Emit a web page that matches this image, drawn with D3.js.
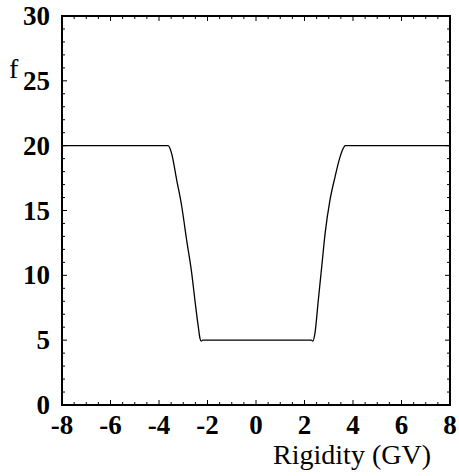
<!DOCTYPE html>
<html lang="en">
<head>
  <meta charset="UTF-8">
  <title>f vs Rigidity</title>
  <script src="https://d3js.org/d3.v7.min.js"></script>
  <style>
    body { margin: 0; background: #fff; }
    .tick-label { font-family: "Liberation Serif", "Times New Roman", serif; font-weight: bold; font-size: 27px; fill: #000; }
    .axis-title { font-family: "Liberation Serif", "Times New Roman", serif; font-size: 28px; fill: #000; }
  </style>
</head>
<body>
<svg width="459" height="476"></svg>
<script>
  // data
  const rigidity = [-8, -3.62, -3.55, -3.48, -3.27, -3.06, -2.86, -2.65, -2.52, -2.38, -2.31, -2.26, -2.2,
                    2.28, 2.34, 2.43, 2.57, 2.71, 2.85, 3.05, 3.26, 3.46, 3.60, 3.68, 8];
  const fValues  = [20, 20, 19.8, 19.4, 17.35, 15.29, 12.72, 10.15, 8.1, 6.04, 5.14, 4.93, 5.0,
                    5.0, 4.93, 5.53, 8.1, 10.66, 13.24, 15.8, 17.6, 19.1, 19.8, 20, 20];
  const xTicks = [-8, -6, -4, -2, 0, 2, 4, 6, 8];
  const yTicks = [0, 5, 10, 15, 20, 25, 30];

  const svg = d3.select("svg");
  const mLeft = 62, mRight = 450, mTop = 16, mBottom = 405;

  const x = d3.scaleLinear().domain([-8, 8]).range([mLeft, mRight]);
  const y = d3.scaleLinear().domain([0, 30]).range([mBottom, mTop]);

  // minor + major ticks, pointing inward on all four sides
  const tickG = svg.append("g").attr("stroke", "#000").attr("stroke-width", 1);
  d3.range(-8, 8.001, 0.5).forEach(function(v) {
    const major = Math.abs(v % 2) < 1e-6;
    const len = major ? 5 : 3;
    tickG.append("line").attr("x1", x(v)).attr("x2", x(v)).attr("y1", mBottom).attr("y2", mBottom - len);
    tickG.append("line").attr("x1", x(v)).attr("x2", x(v)).attr("y1", mTop).attr("y2", mTop + len);
  });
  d3.range(0, 30.001, 1).forEach(function(v) {
    const major = v % 5 === 0;
    const len = major ? 5 : 3;
    tickG.append("line").attr("y1", y(v)).attr("y2", y(v)).attr("x1", mLeft).attr("x2", mLeft + len);
    tickG.append("line").attr("y1", y(v)).attr("y2", y(v)).attr("x1", mRight).attr("x2", mRight - len);
  });

  // frame
  svg.append("rect")
    .attr("x", mLeft).attr("y", mTop)
    .attr("width", mRight - mLeft).attr("height", mBottom - mTop)
    .attr("fill", "none").attr("stroke", "#000").attr("stroke-width", 2);

  // tick labels
  svg.selectAll(".xlab").data(xTicks).enter().append("text")
    .attr("class", "tick-label")
    .attr("x", function(d) { return x(d); })
    .attr("y", mBottom + 29)
    .attr("text-anchor", "middle")
    .text(function(d) { return d; });

  svg.selectAll(".ylab").data(yTicks).enter().append("text")
    .attr("class", "tick-label")
    .attr("x", mLeft - 12)
    .attr("y", function(d) { return y(d) + 9; })
    .attr("text-anchor", "end")
    .text(function(d) { return d; });

  // axis titles
  svg.append("text").attr("class", "axis-title")
    .attr("x", 431).attr("y", 464).attr("text-anchor", "end")
    .text("Rigidity (GV)");
  svg.append("text").attr("class", "axis-title")
    .attr("x", 9).attr("y", 78)
    .text("f");

  // curve
  const pts = rigidity.map(function(r, i) { return [r, fValues[i]]; });
  const line = d3.line()
    .x(function(d) { return x(d[0]); })
    .y(function(d) { return y(d[1]); })
    .curve(d3.curveMonotoneX);
  svg.append("path")
    .datum(pts)
    .attr("d", line)
    .attr("fill", "none")
    .attr("stroke", "#000")
    .attr("stroke-width", 1.3);
</script>
</body>
</html>
